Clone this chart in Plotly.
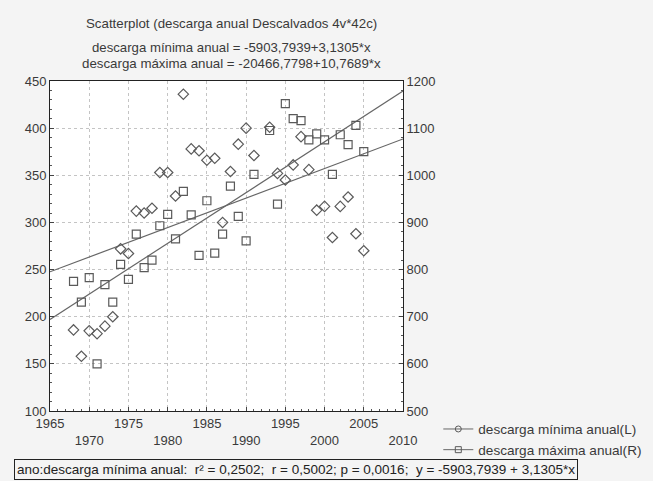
import plotly.graph_objects as go

# Annual discharge at Descalvados, one point per year
anos_min = [1968, 1969, 1970, 1971, 1972, 1973, 1974, 1975, 1976, 1977, 1978, 1979,
            1980, 1981, 1982, 1983, 1984, 1985, 1986, 1987, 1988, 1989, 1990, 1991,
            1993, 1994, 1995, 1996, 1997, 1998, 1999, 2000, 2001, 2002, 2003, 2004, 2005]
descarga_minima = [186, 158, 185, 182, 190, 200, 272, 267, 312, 310, 315, 353,
                   353, 328, 436, 378, 376, 366, 368, 300, 354, 383, 400, 371,
                   401, 352, 345, 361, 391, 356, 313, 317, 284, 317, 327, 288, 270]

anos_max = anos_min
descarga_maxima = [775, 731, 783, 600, 768, 731, 811, 779, 875, 804, 820, 893,
                   917, 865, 966, 916, 830, 946, 835, 875, 977, 913, 861, 1002,
                   1095, 939, 1152, 1120, 1116, 1075, 1088, 1075, 1002, 1086, 1065, 1106, 1050]

# Regression coefficients (intercept, slope)
coef_min = (-5903.7939, 3.1305)
coef_max = (-20466.7798, 10.7689)
x_fit = [1965, 2010]

x_ticks = [1965, 1970, 1975, 1980, 1985, 1990, 1995, 2000, 2005, 2010]
y_left_ticks = [100, 150, 200, 250, 300, 350, 400, 450]
y_right_ticks = [500, 600, 700, 800, 900, 1000, 1100, 1200]

FONT = "Liberation Sans Narrow, Arial Narrow, Liberation Sans, Arial, sans-serif"
INK = "#3a3a3a"
MARK = "#5a5a5a"

fig = go.Figure()

fig.add_trace(go.Scatter(
    x=x_fit, y=[coef_min[0] + coef_min[1] * v for v in x_fit],
    mode="lines", line=dict(color="#666666", width=1.2),
    showlegend=False, hoverinfo="skip"))
fig.add_trace(go.Scatter(
    x=x_fit, y=[coef_max[0] + coef_max[1] * v for v in x_fit],
    mode="lines", line=dict(color="#666666", width=1.2),
    yaxis="y2", showlegend=False, hoverinfo="skip"))

fig.add_trace(go.Scatter(
    x=anos_min, y=descarga_minima, mode="markers",
    marker=dict(symbol="diamond-open", size=8, color=MARK, line=dict(width=1.2)),
    showlegend=False))
fig.add_trace(go.Scatter(
    x=anos_max, y=descarga_maxima, mode="markers", yaxis="y2",
    marker=dict(symbol="square-open", size=8, color=MARK, line=dict(width=1.2)),
    showlegend=False))

# legend entries: marker with its fit line
fig.add_trace(go.Scatter(
    x=[None], y=[None], mode="lines+markers", name="descarga mínima anual(L)",
    line=dict(color="#666666", width=1),
    marker=dict(symbol="circle-open", size=6, color=MARK)))
fig.add_trace(go.Scatter(
    x=[None], y=[None], mode="lines+markers", name="descarga máxima anual(R)",
    line=dict(color="#666666", width=1),
    marker=dict(symbol="square-open", size=6, color=MARK)))

tick_text = [str(v) if i % 2 == 0 else "<br>" + str(v) for i, v in enumerate(x_ticks)]

grid = dict(showgrid=True, gridcolor="#c4c4c4", griddash="dot", gridwidth=1)
frame = dict(showline=True, linecolor="#222222", linewidth=1, mirror=True,
             ticks="inside", ticklen=4, tickcolor="#444444", zeroline=False)

fig.update_layout(
    width=653, height=481,
    margin=dict(l=50, r=250, t=81, b=70, autoexpand=False),
    paper_bgcolor="#f4f4f4", plot_bgcolor="#ffffff",
    font=dict(family=FONT, size=13, color=INK),
    xaxis=dict(range=[1965, 2010], tickvals=x_ticks, ticktext=tick_text,
               minor=dict(dtick=1, ticks="inside", ticklen=2, tickcolor="#555555"),
               **grid, **frame),
    yaxis=dict(range=[100, 450], tickvals=y_left_ticks,
               minor=dict(dtick=10, ticks="inside", ticklen=2, tickcolor="#555555"),
               **grid, **frame),
    yaxis2=dict(range=[500, 1200], tickvals=y_right_ticks, overlaying="y", side="right",
                showgrid=False, showline=True, linecolor="#222222", ticks="inside",
                ticklen=4, tickcolor="#444444", zeroline=False,
                minor=dict(dtick=20, ticks="inside", ticklen=2, tickcolor="#555555")),
    legend=dict(x=1.1, y=-0.008, xanchor="left", yanchor="top",
                bgcolor="rgba(0,0,0,0)", font=dict(size=13.6, color=INK),
                tracegroupgap=0, itemwidth=30),
    showlegend=True,
    annotations=[
        dict(text="Scatterplot (descarga anual Descalvados 4v*42c)", x=0.513, y=1.173,
             xref="paper", yref="paper", showarrow=False, xanchor="center",
             yanchor="middle", font=dict(size=13.3, color=INK)),
        dict(text="descarga mínima anual = -5903,7939+3,1305*x", x=0.513, y=1.1007,
             xref="paper", yref="paper", showarrow=False, xanchor="center",
             yanchor="middle", font=dict(size=13.2, color=INK)),
        dict(text="descarga máxima anual = -20466,7798+10,7689*x", x=0.513, y=1.0535,
             xref="paper", yref="paper", showarrow=False, xanchor="center",
             yanchor="middle", font=dict(size=13.3, color=INK)),
        dict(text="ano:descarga mínima anual:  r² = 0,2502;  r = 0,5002; p = 0,0016;  y = -5903,7939 + 3,1305*x",
             x=-0.102, y=-0.177, xref="paper", yref="paper", showarrow=False,
             xanchor="left", yanchor="middle", bordercolor="#222222", borderwidth=1,
             borderpad=2, font=dict(size=13.5, color="#222222")),
    ],
)

fig.write_html("out.html")
